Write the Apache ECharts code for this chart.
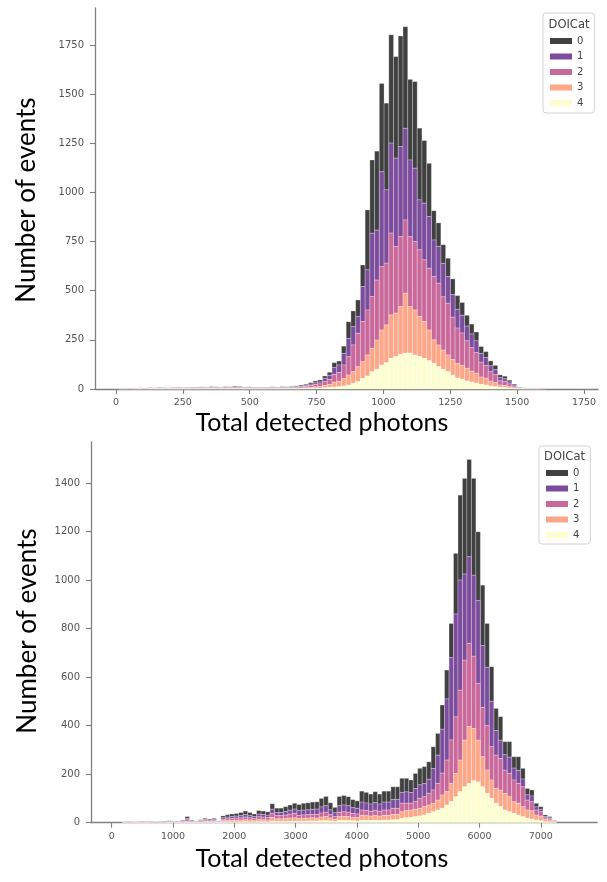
<!DOCTYPE html>
<html><head><meta charset="utf-8">
<script src="https://cdn.jsdelivr.net/npm/echarts@6/dist/echarts.min.js"></script>
<style>html,body{margin:0;padding:0;background:#fff}#c{width:607px;height:882px}</style>
</head><body><div id="c"></div>
<script>
// ---------- categories ----------
const categoryNames = ['0', '1', '2', '3', '4'];

// ---------- top histogram (bin centres, photons) ----------
const topBinWidth = 17.7;
const topBins = [20.1,37.8,55.5,73.2,90.9,108.6,126.3,144.0,161.7,179.4,
197.1,214.8,232.5,250.2,267.9,285.6,303.3,321.0,338.7,356.4,
374.1,391.8,409.5,427.2,444.9,462.6,480.3,498.0,515.7,533.4,
551.1,568.8,586.5,604.2,621.9,639.6,657.3,675.0,692.7,710.4,
728.1,745.8,763.5,781.2,798.9,816.6,834.3,852.0,869.7,887.4,
905.1,922.8,940.5,958.2,975.9,993.6,1011.3,1029.0,1046.7,1064.4,
1082.1,1099.8,1117.5,1135.2,1152.9,1170.6,1188.3,1206.0,1223.7,1241.4,
1259.1,1276.8,1294.5,1312.2,1329.9,1347.6,1365.3,1383.0,1400.7,1418.4,
1436.1,1453.8,1471.5,1489.2,1506.9,1524.6,1542.3,1560.0,1577.7,1595.4];
const topDOI0 = [0,1,1,1,1,1,1,1,2,1,
1,2,2,1,2,2,2,2,2,3,
2,2,2,2,4,3,2,2,2,2,
2,2,2,2,3,2,3,4,5,6,
7,9,10,12,15,25,20,37,85,80,
85,110,305,373,402,449,441,551,517,563,
517,410,441,365,319,271,149,120,95,93,
80,70,65,55,50,45,35,30,25,22,
14,13,9,5,2,1,1,0,0,0];
const topDOI1 = [1,1,1,1,1,1,2,1,2,2,
1,2,2,2,2,2,2,2,2,2,
2,2,3,2,3,3,2,2,2,2,
2,2,2,2,2,2,3,3,4,5,
7,9,10,16,22,35,38,59,93,93,
85,178,204,322,254,483,373,458,449,458,
466,390,373,254,288,263,186,187,170,136,
115,95,90,75,70,60,45,40,30,25,
16,14,10,6,2,1,1,1,0,0];
const topDOI2 = [1,1,2,1,2,2,2,2,2,2,
2,2,3,2,2,3,3,4,3,4,
4,3,4,4,4,4,3,4,3,3,
3,3,4,3,4,4,4,5,6,7,
10,12,14,20,25,40,45,68,93,136,
170,204,229,263,305,322,314,416,339,356,
373,356,348,339,314,314,322,314,271,263,
215,180,165,140,120,105,75,65,48,40,
22,20,14,8,3,2,1,1,1,1];
const topDOI3 = [1,1,1,1,1,1,1,1,1,1,
1,1,1,1,1,2,1,2,2,2,
2,2,2,2,2,2,2,2,1,2,
1,2,2,1,2,2,2,3,3,4,
5,7,8,12,15,24,27,39,51,59,
76,85,107,119,149,178,192,221,221,243,
305,237,229,204,187,156,119,110,98,85,
80,75,70,65,55,50,38,35,25,21,
12,11,8,4,2,1,1,1,1,0];
const topDOI4 = [0,0,0,0,1,0,1,1,1,1,
1,1,1,1,1,1,1,1,1,1,
1,1,1,1,1,1,1,1,1,1,
1,1,1,1,1,1,1,1,2,2,
3,4,4,6,8,10,12,15,20,29,
37,54,66,88,100,122,134,156,165,176,
182,182,173,165,156,144,131,114,100,88,
70,55,50,40,35,30,23,20,15,12,
8,7,4,2,1,1,0,0,0,0];

// ---------- bottom histogram ----------
const bottomBinWidth = 73;
const bottomBins = [64.5,137.5,210.5,283.5,356.5,429.5,502.5,575.5,648.5,721.5,
794.5,867.5,940.5,1013.5,1086.5,1159.5,1232.5,1305.5,1378.5,1451.5,
1524.5,1597.5,1670.5,1743.5,1816.5,1889.5,1962.5,2035.5,2108.5,2181.5,
2254.5,2327.5,2400.5,2473.5,2546.5,2619.5,2692.5,2765.5,2838.5,2911.5,
2984.5,3057.5,3130.5,3203.5,3276.5,3349.5,3422.5,3495.5,3568.5,3641.5,
3714.5,3787.5,3860.5,3933.5,4006.5,4079.5,4152.5,4225.5,4298.5,4371.5,
4444.5,4517.5,4590.5,4663.5,4736.5,4809.5,4882.5,4955.5,5028.5,5101.5,
5174.5,5247.5,5320.5,5393.5,5466.5,5539.5,5612.5,5685.5,5758.5,5831.5,
5904.5,5977.5,6050.5,6123.5,6196.5,6269.5,6342.5,6415.5,6488.5,6561.5,
6634.5,6707.5,6780.5,6853.5,6926.5,6999.5,7072.5,7145.5,7218.5];
const bottomDOI0 = [0,0,1,1,1,1,1,1,1,1,
1,2,2,1,2,3,8,3,2,3,
5,4,5,2,8,10,11,11,13,14,
13,11,15,14,14,23,18,18,20,22,
24,26,28,29,30,30,35,38,29,22,
38,39,37,33,31,45,44,41,45,41,
45,45,52,52,58,56,52,62,68,70,
72,90,90,100,119,141,250,350,394,401,
399,284,249,181,143,91,97,54,64,47,
57,44,26,25,15,11,7,5,2];
const bottomDOI1 = [0,0,1,1,0,1,1,1,1,1,
1,1,2,1,1,2,5,2,1,2,
3,3,3,1,6,7,8,8,9,11,
9,8,11,11,10,17,13,13,15,16,
18,19,20,20,21,22,25,27,20,16,
27,28,27,24,23,33,31,30,32,30,
33,33,37,37,45,47,44,54,56,54,
58,88,116,181,252,339,424,454,355,357,
334,341,255,240,187,102,76,64,67,49,
53,32,22,24,13,10,5,4,1];
const bottomDOI2 = [0,0,1,2,1,1,2,1,2,1,
2,2,2,2,2,3,7,3,2,4,
5,4,5,1,6,7,8,9,9,11,
9,8,11,11,10,17,13,13,14,16,
18,13,14,14,14,15,17,18,14,11,
18,19,18,16,15,22,21,20,22,20,
22,22,25,25,35,30,28,32,41,41,
48,55,69,90,130,179,233,288,330,343,
298,234,203,183,137,137,130,96,96,90,
82,82,41,37,21,18,6,5,2];
const bottomDOI3 = [0,0,1,1,1,1,1,1,1,0,
1,1,1,1,1,2,3,1,1,2,
3,2,3,1,5,6,6,7,8,8,
8,6,9,8,8,15,11,11,12,13,
14,11,12,12,13,12,15,16,12,9,
16,17,16,14,14,20,19,18,19,18,
20,20,22,22,27,30,30,30,31,34,
35,35,41,55,55,75,96,130,192,234,
215,172,124,96,76,61,68,68,62,48,
49,41,34,34,20,19,10,8,5];
const bottomDOI4 = [0,0,0,0,0,0,0,0,0,0,
0,0,1,0,1,1,2,1,1,1,
2,2,2,1,3,3,3,3,3,4,
3,3,4,4,3,6,5,5,5,6,
6,6,6,7,7,7,8,9,7,5,
9,9,9,8,7,10,10,9,10,9,
10,10,12,12,18,20,22,25,28,32,
38,45,52,59,73,87,107,128,148,162,
173,168,148,121,100,80,66,52,45,38,
31,25,18,15,11,8,4,3,1];

// ---------- ticks ----------
const topXTicks = [0, 250, 500, 750, 1000, 1250, 1500, 1750];
const topYTicks = [0, 250, 500, 750, 1000, 1250, 1500, 1750];
const bottomXTicks = [0, 1000, 2000, 3000, 4000, 5000, 6000, 7000];
const bottomYTicks = [0, 200, 400, 600, 800, 1000, 1200, 1400];

// ---------- styling ----------
const colors = ['#404041', '#7d4d9d', '#c9699b', '#fda789', '#fdfecf'];
const axisGray = '#808080';

// stack with category 4 at the bottom and category 0 on top (as in the figure)
function stackRows(bins, width, layers) {
  const out = layers.map(() => []);
  bins.forEach((c, i) => {
    let base = 0;
    for (let j = layers.length - 1; j >= 0; j--) {
      const v = layers[j][i];
      out[j].push([c - width / 2, c + width / 2, base, base + v]);
      base += v;
    }
  });
  return out;
}

function renderBin(params, api) {
  const lo = api.value(2), hi = api.value(3);
  if (!(hi > lo)) return null;
  const p0 = api.coord([api.value(0), lo]);
  const p1 = api.coord([api.value(1), hi]);
  return {
    type: 'rect',
    shape: { x: p0[0], y: p1[1], width: p1[0] - p0[0], height: p0[1] - p1[1] },
    style: { fill: api.visual('color'), stroke: 'rgba(255,255,255,0.45)', lineWidth: 0.6 }
  };
}

const topRows = stackRows(topBins, topBinWidth, [topDOI0, topDOI1, topDOI2, topDOI3, topDOI4]);
const bottomRows = stackRows(bottomBins, bottomBinWidth, [bottomDOI0, bottomDOI1, bottomDOI2, bottomDOI3, bottomDOI4]);

const series = [];
[topRows, bottomRows].forEach((rows, g) => {
  rows.forEach((data, j) => {
    series.push({
      type: 'custom', name: categoryNames[j], xAxisIndex: g, yAxisIndex: g,
      itemStyle: { color: colors[j] }, renderItem: renderBin,
      encode: { x: [0, 1], y: [2, 3] }, data: data, silent: true
    });
  });
});

const plainNum = v => String(v);
function xAxis(g, min, max, ticks) {
  return {
    type: 'value', gridIndex: g, min: min, max: max,
    axisLine: { show: true, onZero: false, lineStyle: { color: axisGray, width: 1.3 } },
    axisTick: { show: true, length: 5, customValues: ticks, lineStyle: { color: axisGray, width: 1.1 } },
    axisLabel: { customValues: ticks, formatter: plainNum, color: '#555', fontSize: 9.5, fontFamily: 'DejaVu Sans', margin: 9 },
    splitLine: { show: false }
  };
}
function yAxis(g, max, ticks) {
  return {
    type: 'value', gridIndex: g, min: 0, max: max,
    axisLine: { show: true, onZero: false, lineStyle: { color: axisGray, width: 1.3 } },
    axisTick: { show: true, length: 5, customValues: ticks, lineStyle: { color: axisGray, width: 1.1 } },
    axisLabel: { customValues: ticks, formatter: plainNum, color: '#555', fontSize: 10, fontFamily: 'DejaVu Sans', margin: 11 },
    splitLine: { show: false }
  };
}
function legend(left, top, pad) {
  return {
    orient: 'vertical', left: left, top: top, data: categoryNames, icon: 'rect',
    itemWidth: 22, itemHeight: 6, itemGap: 3.5, padding: pad,
    borderColor: '#d3d3d3', borderWidth: 1, borderRadius: 3, backgroundColor: '#fff',
    textStyle: { fontSize: 10, color: '#444', fontFamily: 'DejaVu Sans', lineHeight: 12 },
    selectedMode: false
  };
}
const titleFont = 'Lato';
const chart = echarts.init(document.getElementById('c'), null, { renderer: 'canvas' });
chart.setOption({
  animation: false,
  backgroundColor: '#fff',
  grid: [
    { left: 95, top: 8, width: 503, height: 381 },
    { left: 91, top: 442, width: 506, height: 380.7 }
  ],
  xAxis: [xAxis(0, -78.5, 1802.4, topXTicks), xAxis(1, -337.7, 7916.8, bottomXTicks)],
  yAxis: [yAxis(0, 1938.2, topYTicks), yAxis(1, 1569, bottomYTicks)],
  legend: [legend(543, 13, [22, 11, 4, 7]), legend(539, 446, [21, 11, 3, 7])],
  graphic: [
    { type: 'text', x: 27, y: 200, rotation: Math.PI / 2, z: 100,
      style: { text: 'Number of events', fontSize: 26, fontFamily: titleFont, fill: '#000', align: 'center', verticalAlign: 'middle' } },
    { type: 'text', x: 28, y: 631, rotation: Math.PI / 2, z: 100,
      style: { text: 'Number of events', fontSize: 26, fontFamily: titleFont, fill: '#000', align: 'center', verticalAlign: 'middle' } },
    { type: 'text', x: 322, y: 423, z: 100,
      style: { text: 'Total detected photons', fontSize: 25, fontFamily: titleFont, fill: '#000', align: 'center', verticalAlign: 'middle' } },
    { type: 'text', x: 322, y: 859, z: 100,
      style: { text: 'Total detected photons', fontSize: 25, fontFamily: titleFont, fill: '#000', align: 'center', verticalAlign: 'middle' } },
    { type: 'text', x: 569, y: 25, z: 100,
      style: { text: 'DOICat', fontSize: 11.5, fontFamily: 'DejaVu Sans', fill: '#444', align: 'center', verticalAlign: 'middle' } },
    { type: 'text', x: 564.5, y: 457, z: 100,
      style: { text: 'DOICat', fontSize: 11.5, fontFamily: 'DejaVu Sans', fill: '#444', align: 'center', verticalAlign: 'middle' } }
  ],
  series: series
});
</script>
</body></html>
